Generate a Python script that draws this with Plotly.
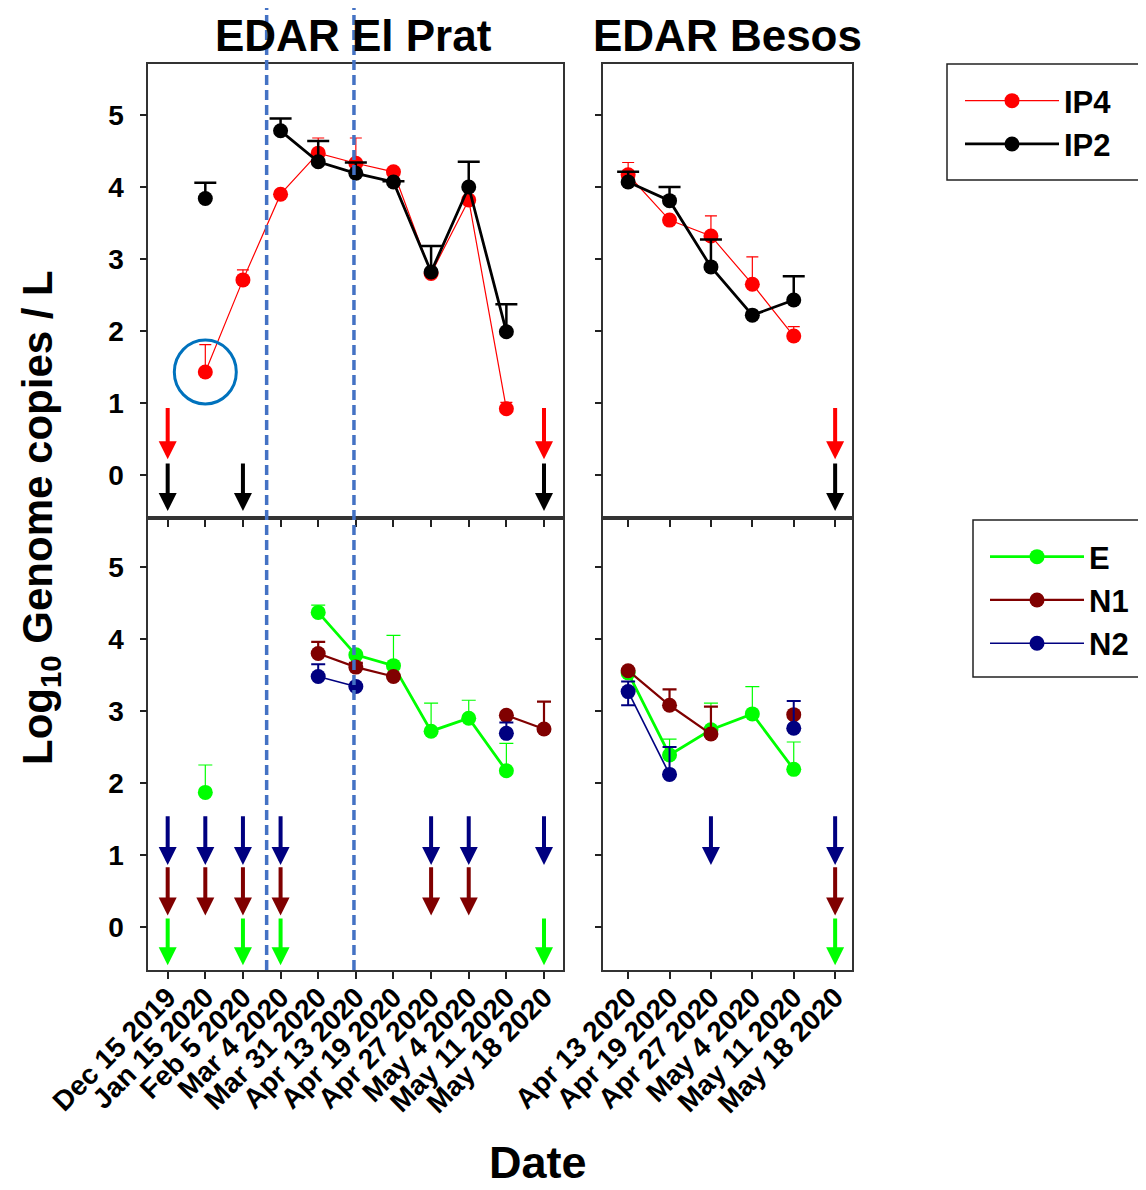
import plotly.graph_objects as go

# ---------------- data ----------------
prat_dates = ["Dec 15 2019", "Jan 15 2020", "Feb 5 2020", "Mar 4 2020", "Mar 31 2020",
              "Apr 13 2020", "Apr 19 2020", "Apr 27 2020", "May 4 2020", "May 11 2020",
              "May 18 2020"]
besos_dates = ["Apr 13 2020", "Apr 19 2020", "Apr 27 2020", "May 4 2020", "May 11 2020",
               "May 18 2020"]

# El Prat - phages
ip4_prat = [None, 1.43, 2.71, 3.90, 4.47, 4.33, 4.21, 2.80, 3.82, 0.92, None]
ip4_prat_err = [None, 0.38, 0.14, None, 0.21, 0.35, None, None, None, 0.09, None]
ip2_prat = [None, 3.84, None, 4.78, 4.35, 4.19, 4.07, 2.82, 4.00, 1.99, None]
ip2_prat_err = [None, 0.22, None, 0.17, 0.29, 0.15, 0.01, 0.36, 0.35, 0.38, None]

# Besos - phages
ip4_besos = [4.17, 3.54, 3.32, 2.65, 1.93, None]
ip4_besos_err = [0.17, None, 0.28, 0.38, 0.13, None]
ip2_besos = [4.07, 3.81, 2.89, 2.22, 2.43, None]
ip2_besos_err = [0.14, 0.19, 0.38, None, 0.33, None]

# El Prat - SARS-CoV-2 targets
e_prat = [None, 1.87, None, None, 4.37, 3.78, 3.63, 2.72, 2.90, 2.17, None]
e_prat_err = [None, 0.38, None, None, 0.10, None, 0.42, 0.39, 0.25, 0.38, None]
n1_prat = [None, None, None, None, 3.80, 3.61, 3.48, None, None, 2.94, 2.75]
n1_prat_err = [None, None, None, None, 0.16, 0.06, None, None, None, None, 0.38]
n2_prat = [None, None, None, None, 3.48, 3.34, None, None, None, 2.69, None]
n2_prat_err = [None, None, None, None, 0.17, None, None, None, None, 0.15, None]

# Besos - SARS-CoV-2 targets
e_besos = [3.53, 2.39, 2.74, 2.96, 2.19, None]
e_besos_err = [None, 0.22, 0.37, 0.38, 0.38, None]
n1_besos = [3.56, 3.08, 2.68, None, 2.95, None]
n1_besos_err = [None, 0.22, 0.38, None, None, None]
n2_besos = [3.27, 2.12, None, None, 2.76, None]
n2_besos_err = [0.14, 0.38, None, None, 0.38, None]
n2_besos_err_minus = [0.19, None, None, None, None, None]

# non-detects (below limit) per series
ip4_prat_nd = ["Dec 15 2019", "May 18 2020"]
ip2_prat_nd = ["Dec 15 2019", "Feb 5 2020", "May 18 2020"]
ip4_besos_nd = ["May 18 2020"]
ip2_besos_nd = ["May 18 2020"]
e_prat_nd = ["Dec 15 2019", "Feb 5 2020", "Mar 4 2020", "May 18 2020"]
n1_prat_nd = ["Dec 15 2019", "Jan 15 2020", "Feb 5 2020", "Mar 4 2020", "Apr 27 2020", "May 4 2020"]
n2_prat_nd = ["Dec 15 2019", "Jan 15 2020", "Feb 5 2020", "Mar 4 2020", "Apr 27 2020", "May 4 2020",
              "May 18 2020"]
e_besos_nd = ["May 18 2020"]
n1_besos_nd = ["May 18 2020"]
n2_besos_nd = ["Apr 27 2020", "May 18 2020"]

# event markers (dashed lines, category-index positions on El Prat axis)
event_lines = [2.63, 4.95]
y_ticks = [0, 1, 2, 3, 4, 5]

# ---------------- styling ----------------
W, H = 1146, 1190
OFF = 8  # page body margin offset
FONT = "Liberation Sans"
RED, BLACK, GREEN, MAROON, NAVY = "#FF0000", "#000000", "#00FF00", "#800000", "#000080"

STYLE = {
    "IP4": dict(color=RED, lw=1.2, et=1.2, ew=6),
    "IP2": dict(color=BLACK, lw=2.8, et=2.5, ew=11),
    "E": dict(color=GREEN, lw=2.8, et=1.2, ew=7),
    "N1": dict(color=MAROON, lw=2.2, et=2.2, ew=7),
    "N2": dict(color=NAVY, lw=1.6, et=2.0, ew=7),
}
# arrow tail / tip levels (log units) for non-detect symbols
ARROW_SPAN = {"IP4": (0.95, 0.22), "IP2": (0.18, -0.50),
              "N2": (1.56, 0.86), "N1": (0.85, 0.16), "E": (0.14, -0.53)}

fig = go.Figure()


def px_x(p):
    return (p - OFF) / W


def px_y(p):
    return 1 - (p - OFF) / H


def add_series(xa, ya, dates, vals, err, name, legend, showlegend, err_minus=None):
    st = STYLE[name]
    c = st["color"]
    # vertical error bars (no caps)
    minus = [0 if (e is not None and v is not None) else None for v, e in zip(vals, err)]
    if err_minus is not None:
        minus = [m if m is not None else mm for m, mm in zip(err_minus, minus)]
    fig.add_trace(go.Scatter(
        x=dates, y=vals, mode="markers", marker=dict(size=1, opacity=0),
        error_y=dict(type="data", symmetric=False, array=err, arrayminus=minus,
                     color=c, thickness=st["et"], width=0),
        xaxis=xa, yaxis=ya, showlegend=False, hoverinfo="skip"))
    # caps on top ends
    tops = [v + e if (v is not None and e is not None) else None for v, e in zip(vals, err)]
    zeros = [0 if t is not None else None for t in tops]
    fig.add_trace(go.Scatter(
        x=dates, y=tops, mode="markers", marker=dict(size=1, opacity=0),
        error_y=dict(type="data", symmetric=False, array=zeros, arrayminus=zeros,
                     color=c, thickness=st["et"], width=st["ew"]),
        xaxis=xa, yaxis=ya, showlegend=False, hoverinfo="skip"))
    if err_minus is not None:
        bots = [v - e if (v is not None and e is not None) else None for v, e in zip(vals, err_minus)]
        zb = [0 if t is not None else None for t in bots]
        fig.add_trace(go.Scatter(
            x=dates, y=bots, mode="markers", marker=dict(size=1, opacity=0),
            error_y=dict(type="data", symmetric=False, array=zb, arrayminus=zb,
                         color=c, thickness=st["et"], width=st["ew"]),
            xaxis=xa, yaxis=ya, showlegend=False, hoverinfo="skip"))
    # main line + markers
    fig.add_trace(go.Scatter(
        x=dates, y=vals, mode="lines+markers", name=name,
        line=dict(color=c, width=st["lw"]),
        marker=dict(color=c, size=15),
        xaxis=xa, yaxis=ya, showlegend=showlegend, legend=legend, hoverinfo="skip"))


# top-left: El Prat phages
add_series("x", "y", prat_dates, ip4_prat, ip4_prat_err, "IP4", "legend", True)
add_series("x", "y", prat_dates, ip2_prat, ip2_prat_err, "IP2", "legend", True)
# top-right: Besos phages
add_series("x2", "y2", besos_dates, ip4_besos, ip4_besos_err, "IP4", "legend", False)
add_series("x2", "y2", besos_dates, ip2_besos, ip2_besos_err, "IP2", "legend", False)
# bottom-left: El Prat SARS-CoV-2
add_series("x3", "y3", prat_dates, e_prat, e_prat_err, "E", "legend2", True)
add_series("x3", "y3", prat_dates, n1_prat, n1_prat_err, "N1", "legend2", True)
add_series("x3", "y3", prat_dates, n2_prat, n2_prat_err, "N2", "legend2", True)
# bottom-right: Besos SARS-CoV-2
add_series("x4", "y4", besos_dates, e_besos, e_besos_err, "E", "legend2", False)
add_series("x4", "y4", besos_dates, n1_besos, n1_besos_err, "N1", "legend2", False)
add_series("x4", "y4", besos_dates, n2_besos, n2_besos_err, "N2", "legend2", False,
           err_minus=n2_besos_err_minus)

# ---------------- non-detect arrows ----------------
annotations = []


def add_arrows(xa, ya, dates, nd, name):
    tail, tip = ARROW_SPAN[name]
    for d in nd:
        i = dates.index(d)
        annotations.append(dict(
            x=i, y=tip, ax=i, ay=tail, xref=xa, yref=ya, axref=xa, ayref=ya,
            text="", showarrow=True, arrowhead=2, arrowsize=0.9, arrowwidth=4,
            arrowcolor=STYLE[name]["color"], standoff=0, startstandoff=0))


add_arrows("x", "y", prat_dates, ip4_prat_nd, "IP4")
add_arrows("x", "y", prat_dates, ip2_prat_nd, "IP2")
add_arrows("x2", "y2", besos_dates, ip4_besos_nd, "IP4")
add_arrows("x2", "y2", besos_dates, ip2_besos_nd, "IP2")
add_arrows("x3", "y3", prat_dates, n2_prat_nd, "N2")
add_arrows("x3", "y3", prat_dates, n1_prat_nd, "N1")
add_arrows("x3", "y3", prat_dates, e_prat_nd, "E")
add_arrows("x4", "y4", besos_dates, n2_besos_nd, "N2")
add_arrows("x4", "y4", besos_dates, n1_besos_nd, "N1")
add_arrows("x4", "y4", besos_dates, e_besos_nd, "E")

# ---------------- titles ----------------
title_font = dict(family=FONT, size=44, color="black", weight="bold")
annotations += [
    dict(text="EDAR El Prat", x=px_x(353), y=px_y(35), xref="paper", yref="paper",
         showarrow=False, font=title_font, xanchor="center", yanchor="middle"),
    dict(text="EDAR Besos", x=px_x(727), y=px_y(35), xref="paper", yref="paper",
         showarrow=False, font=title_font, xanchor="center", yanchor="middle"),
    dict(text="Log<sub>10</sub> Genome copies / L", x=px_x(40), y=px_y(518),
         xref="paper", yref="paper", showarrow=False, textangle=-90,
         font=dict(family=FONT, size=42, color="black", weight="bold"),
         xanchor="center", yanchor="middle"),
    dict(text="Date", x=px_x(538), y=px_y(1162), xref="paper", yref="paper",
         showarrow=False, font=dict(family=FONT, size=45, color="black", weight="bold"),
         xanchor="center", yanchor="middle"),
]

# ---------------- shapes ----------------
shapes = []
for xv in event_lines:
    shapes.append(dict(type="line", xref="x3", yref="paper", x0=xv, x1=xv,
                       y0=px_y(970), y1=1.0,
                       line=dict(color="#4472C4", width=3.5, dash="10px,5px")))
# highlight circle around the Jan 15 IP4 value
shapes.append(dict(type="circle", xref="x", yref="y", xsizemode="pixel", ysizemode="pixel",
                   xanchor=1, yanchor=ip4_prat[1], x0=-31, x1=31, y0=-32, y1=32,
                   line=dict(color="#0072BD", width=3)))
# legend frames
shapes.append(dict(type="rect", xref="paper", yref="paper", x0=px_x(947), x1=px_x(1140),
                   y0=px_y(180), y1=px_y(64), line=dict(color="#222222", width=1.5),
                   layer="below"))
shapes.append(dict(type="rect", xref="paper", yref="paper", x0=px_x(973), x1=px_x(1160),
                   y0=px_y(677), y1=px_y(520), line=dict(color="#222222", width=1.5),
                   layer="below"))

# ---------------- axes ----------------
tick_font = dict(family=FONT, size=28, color="black", weight="bold")
xtick_font = dict(family=FONT, size=28, color="black", weight="bold")
base = dict(showline=True, linecolor="#333333", linewidth=1.5, mirror=True,
            ticks="outside", ticklen=7, tickwidth=1.5, tickcolor="#222222",
            showgrid=False, zeroline=False, automargin=False)

dom_left = [px_x(148.3), px_x(562.7)]
dom_right = [px_x(603.3), px_x(851.7)]
dom_top = [px_y(518), px_y(64)]
dom_bot = [px_y(970), px_y(518)]
xr_left = [-0.515, 10.497]
xr_right = [-0.60, 5.40]
yr_top = [-0.597, 5.708]
yr_bot = [-0.597, 5.681]

legend_font = dict(family=FONT, size=31, color="black", weight="bold")

fig.update_layout(
    xaxis=dict(base, domain=dom_left, anchor="y", type="category", categoryorder="array",
               categoryarray=prat_dates, range=xr_left, showticklabels=False),
    yaxis=dict(base, domain=dom_top, anchor="x", range=yr_top, tickvals=y_ticks,
               tickfont=tick_font, ticklabelstandoff=10),
    xaxis2=dict(base, domain=dom_right, anchor="y2", type="category", categoryorder="array",
                categoryarray=besos_dates, range=xr_right, showticklabels=False),
    yaxis2=dict(base, domain=dom_top, anchor="x2", range=yr_top, tickvals=y_ticks,
                showticklabels=False),
    xaxis3=dict(base, domain=dom_left, anchor="y3", type="category", categoryorder="array",
                categoryarray=prat_dates, range=xr_left, tickangle=-45, tickfont=xtick_font,
                ticklabelstandoff=-9),
    yaxis3=dict(base, domain=dom_bot, anchor="x3", range=yr_bot, tickvals=y_ticks,
                tickfont=tick_font, ticklabelstandoff=10),
    xaxis4=dict(base, domain=dom_right, anchor="y4", type="category", categoryorder="array",
                categoryarray=besos_dates, range=xr_right, tickangle=-45, tickfont=xtick_font,
                ticklabelstandoff=-9),
    yaxis4=dict(base, domain=dom_bot, anchor="x4", range=yr_bot, tickvals=y_ticks,
                showticklabels=False),
    legend=dict(x=px_x(960), y=px_y(74), xanchor="left", yanchor="top",
                borderwidth=0, bgcolor="rgba(0,0,0,0)", font=legend_font,
                tracegroupgap=0, itemwidth=94),
    legend2=dict(x=px_x(985), y=px_y(530), xanchor="left", yanchor="top",
                 borderwidth=0, bgcolor="rgba(0,0,0,0)", font=legend_font,
                 tracegroupgap=0, itemwidth=94),
    annotations=annotations,
    shapes=shapes,
    width=W, height=H,
    margin=dict(l=0, r=0, t=0, b=0, autoexpand=False),
    paper_bgcolor="white", plot_bgcolor="white",
)

fig.write_html("out.html")
